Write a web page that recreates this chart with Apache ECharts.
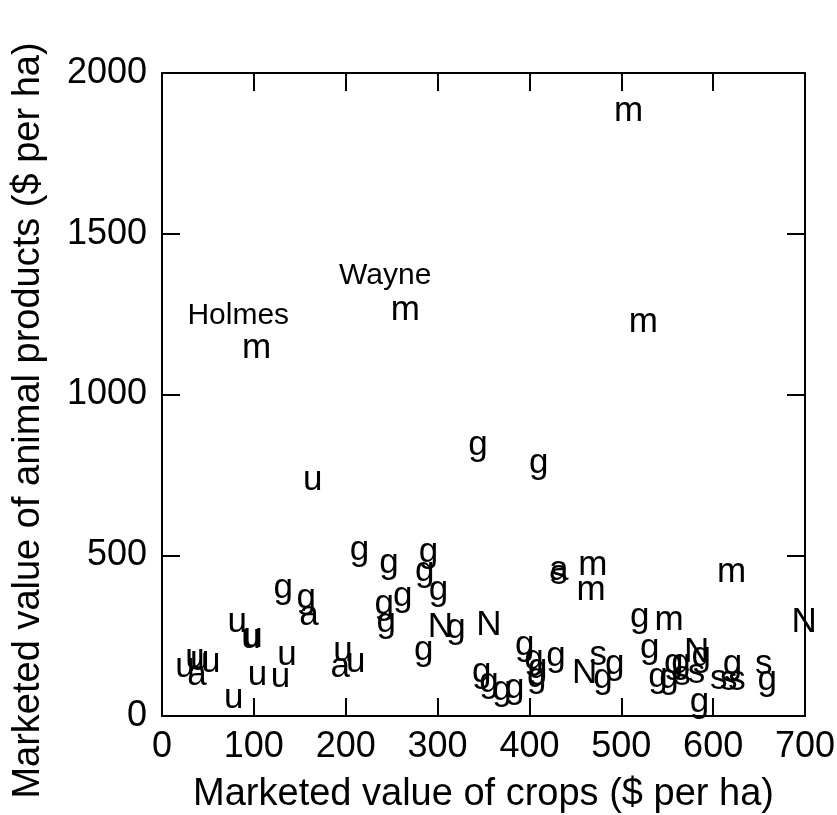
<!DOCTYPE html>
<html>
<head>
<meta charset="utf-8">
<script src="https://cdn.jsdelivr.net/npm/echarts@6/dist/echarts.min.js"></script>
<style>html,body{margin:0;padding:0;background:#fff}#c{width:837px;height:815px}</style>
</head>
<body>
<div id="c"></div>
<script>
// ---- data (x = crops $/ha, y = animal products $/ha) ----
const xTickValues = [0, 100, 200, 300, 400, 500, 600, 700];
const yTickValues = [0, 500, 1000, 1500, 2000];
const xTitle = 'Marketed value of crops ($ per ha)';
const yTitle = 'Marketed value of animal products ($ per ha)';

const mPts = [[508,1882],[524,1224],[103,1143],[265,1261],[469,470],[467,391],[620,447],[552,298]];
const gPts = [[215,516],[132,397],[157,366],[247,475],[290,508],[286,450],[301,391],[262,373],[242,348],[244,290],
              [320,273],[285,205],[344,842],[410,786],[348,137],[356,104],[370,80],[384,87],[395,220],[405,177],
              [409,149],[408,121],[429,186],[520,307],[493,160],[480,118],[531,211],[557,165],[565,165],[587,187],
              [540,121],[552,116],[585,43],[621,160],[659,112]];
const uPts = [[164,733],[82,292],[97,242],[99,244],[136,189],[104,127],[129,121],[78,56],[25,152],[36,178],
              [41,172],[53,166],[197,200],[211,166]];
const nPts = [[303,277],[356,283],[460,134],[582,199],[699,292]];
const sPts = [[432,440],[475,189],[566,127],[582,134],[606,115],[617,112],[626,112],[655,160]];
const aPts = [[160,313],[38,128],[194,152],[432,452]];
const nameLabels = ['Holmes', 'Wayne'];
const namePts = [[83,1245],[243,1370]];

const FONT = '"Liberation Sans", Arial, Helvetica, sans-serif';

function letterSeries(letter, pts) {
  return {
    type: 'custom', name: letter, data: pts, xAxisIndex: 0, yAxisIndex: 0, clip: false, silent: true,
    renderItem: function (params, api) {
      const p = api.coord([api.value(0), api.value(1)]);
      return { type: 'text', x: p[0], y: p[1],
        style: { text: letter, fontSize: 35, fontFamily: FONT, fill: '#000', align: 'center', verticalAlign: 'middle' } };
    }
  };
}

const nameSeries = {
  type: 'custom', name: 'labels', data: namePts, xAxisIndex: 0, yAxisIndex: 0, clip: false, silent: true,
  renderItem: function (params, api) {
    const p = api.coord([api.value(0), api.value(1)]);
    return { type: 'text', x: p[0], y: p[1],
      style: { text: nameLabels[params.dataIndex], fontSize: 30, fontFamily: FONT, fill: '#000', align: 'center', verticalAlign: 'middle' } };
  }
};

const lineStyle = { color: '#000', width: 2 };
function axisBase(min, max, interval) {
  return {
    type: 'value', min: min, max: max, interval: interval,
    axisLine: { show: true, onZero: false, lineStyle: lineStyle },
    axisTick: { show: true, inside: true, length: 18, lineStyle: lineStyle },
    splitLine: { show: false }
  };
}

const xMin = xTickValues[0], xMax = xTickValues[xTickValues.length - 1], xInt = xTickValues[1] - xTickValues[0];
const yMin = yTickValues[0], yMax = yTickValues[yTickValues.length - 1], yInt = yTickValues[1] - yTickValues[0];
const plain = function (v) { return String(v); };

const chart = echarts.init(document.getElementById('c'), null, { renderer: 'canvas' });
chart.setOption({
  animation: false,
  backgroundColor: '#fff',
  grid: { left: 162, right: 32, top: 73, bottom: 99, containLabel: false, outerBoundsMode: 'none' },
  xAxis: [
    Object.assign(axisBase(xMin, xMax, xInt), {
      position: 'bottom',
      axisLabel: { show: true, fontSize: 36, color: '#000', margin: 13, fontFamily: FONT, formatter: plain },
      name: xTitle, nameLocation: 'middle', nameGap: 60,
      nameTextStyle: { fontSize: 38, color: '#000', fontFamily: FONT }
    }),
    Object.assign(axisBase(xMin, xMax, xInt), { position: 'top', axisLabel: { show: false } })
  ],
  yAxis: [
    Object.assign(axisBase(yMin, yMax, yInt), {
      position: 'left',
      axisLabel: { show: true, fontSize: 36, color: '#000', margin: 15, fontFamily: FONT, formatter: plain },
      name: yTitle, nameLocation: 'middle', nameGap: 114, nameRotate: 90,
      nameTextStyle: { fontSize: 38, color: '#000', fontFamily: FONT, padding: [0, 52, 0, 0] }
    }),
    Object.assign(axisBase(yMin, yMax, yInt), { position: 'right', axisLabel: { show: false } })
  ],
  series: [
    letterSeries('m', mPts),
    letterSeries('g', gPts),
    letterSeries('u', uPts),
    letterSeries('N', nPts),
    letterSeries('s', sPts),
    letterSeries('a', aPts),
    nameSeries
  ]
});
</script>
</body>
</html>
